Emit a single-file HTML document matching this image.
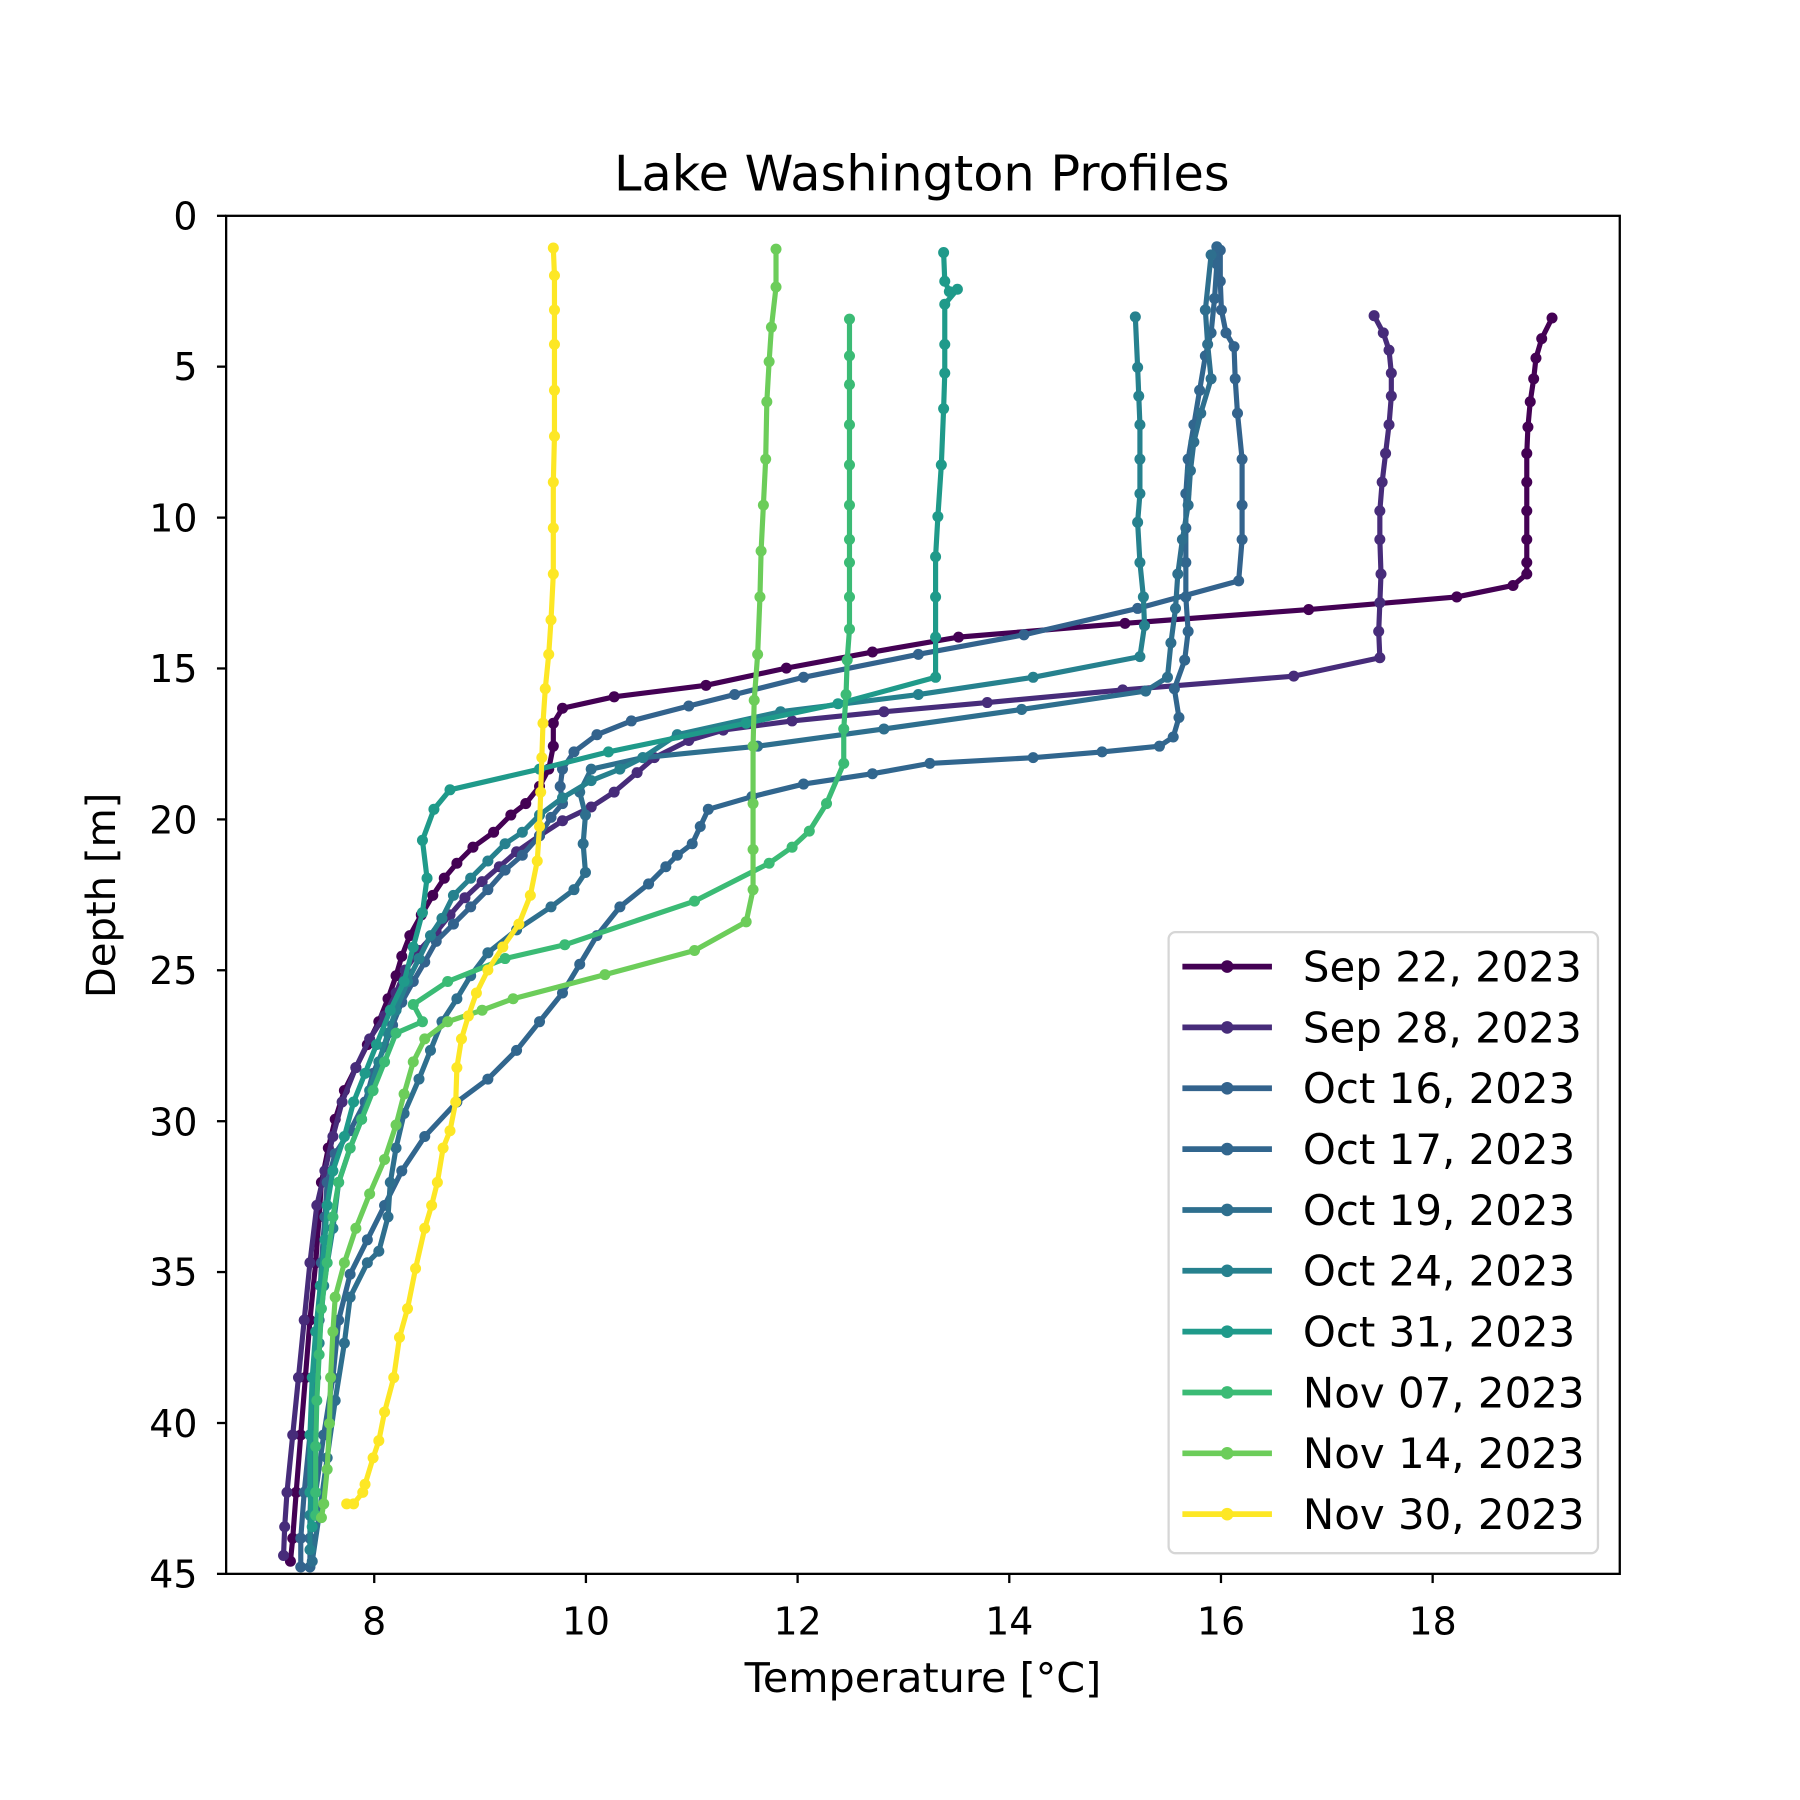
<!DOCTYPE html>
<html><head><meta charset="utf-8"><style>
html,body{margin:0;padding:0;background:#fff}
svg{display:block}
text{font-family:"DejaVu Sans","Liberation Sans",sans-serif;fill:#000}
</style></head><body>
<svg width="1800" height="1800" viewBox="0 0 1568 1568" xmlns="http://www.w3.org/2000/svg">
<defs>
<marker id="m0" viewBox="-6 -6 12 12" markerWidth="12" markerHeight="12" markerUnits="userSpaceOnUse"><circle r="4.8" fill="#440154"/></marker>
<marker id="m1" viewBox="-6 -6 12 12" markerWidth="12" markerHeight="12" markerUnits="userSpaceOnUse"><circle r="4.8" fill="#472c7a"/></marker>
<marker id="m2" viewBox="-6 -6 12 12" markerWidth="12" markerHeight="12" markerUnits="userSpaceOnUse"><circle r="4.8" fill="#33638d"/></marker>
<marker id="m3" viewBox="-6 -6 12 12" markerWidth="12" markerHeight="12" markerUnits="userSpaceOnUse"><circle r="4.8" fill="#31668e"/></marker>
<marker id="m4" viewBox="-6 -6 12 12" markerWidth="12" markerHeight="12" markerUnits="userSpaceOnUse"><circle r="4.8" fill="#2e6f8e"/></marker>
<marker id="m5" viewBox="-6 -6 12 12" markerWidth="12" markerHeight="12" markerUnits="userSpaceOnUse"><circle r="4.8" fill="#26818e"/></marker>
<marker id="m6" viewBox="-6 -6 12 12" markerWidth="12" markerHeight="12" markerUnits="userSpaceOnUse"><circle r="4.8" fill="#1f9a8a"/></marker>
<marker id="m7" viewBox="-6 -6 12 12" markerWidth="12" markerHeight="12" markerUnits="userSpaceOnUse"><circle r="4.8" fill="#3bbb75"/></marker>
<marker id="m8" viewBox="-6 -6 12 12" markerWidth="12" markerHeight="12" markerUnits="userSpaceOnUse"><circle r="4.8" fill="#6ccd5a"/></marker>
<marker id="m9" viewBox="-6 -6 12 12" markerWidth="12" markerHeight="12" markerUnits="userSpaceOnUse"><circle r="4.8" fill="#fde725"/></marker>
<clipPath id="ax"><rect x="197" y="188" width="1214" height="1183"/></clipPath>
</defs>
<rect width="1568" height="1568" fill="#fff"/>
<g clip-path="url(#ax)" fill="none" stroke-width="4.5" stroke-linejoin="round">
<polyline stroke="#440154" marker-start="url(#m0)" marker-mid="url(#m0)" marker-end="url(#m0)" points="1352,277 1343,295 1338,312 1336,330 1333,350 1331,372 1330,395 1330,420 1330,445 1330,470 1330,490 1330,500 1318,510 1269,520 1140,531 980,543 835,555 760,568 685,582 615,597 535,607 490,617 482,630 482,650 478,670 470,685 458,700 445,710 430,725 412,738 398,752 387,765 377,780 367,797 357,815 350,833 345,850 338,870 330,890 320,910 310,930 300,950 292,975 286,1000 280,1030 278,1060 275,1100 270,1150 266,1200 262,1250 258,1300 255,1340 253,1360"/>
<polyline stroke="#472c7a" marker-start="url(#m1)" marker-mid="url(#m1)" marker-end="url(#m1)" points="1197,275 1205,290 1210,305 1212,325 1212,345 1210,370 1207,395 1204,420 1202,445 1202,470 1203,500 1202,525 1201,550 1202,573 1127,589 978,601 860,612 770,620 690,628 630,636 600,645 570,660 555,673 535,690 515,703 490,715 470,728 450,742 435,755 420,768 405,782 392,797 380,812 365,828 353,845 345,865 335,885 322,905 310,930 298,960 290,990 283,1020 276,1050 270,1100 265,1150 260,1200 255,1250 250,1300 248,1330 247,1355"/>
<polyline stroke="#33638d" marker-start="url(#m2)" marker-mid="url(#m2)" marker-end="url(#m2)" points="1063,218 1063,245 1064,270 1068,290 1075,302 1076,330 1078,360 1082,400 1082,440 1082,470 1079,506 991,530 892,553 800,570 700,590 640,605 600,615 550,628 520,640 500,655 490,670 488,685 490,700 480,712 470,728 455,745 440,758 425,775 410,790 395,805 380,820 370,838 360,855 350,873 342,893 335,912 325,935 318,960 305,985 292,1005 285,1030 283,1060 280,1100 278,1150 275,1200 270,1250 265,1300 262,1340 262,1365"/>
<polyline stroke="#31668e" marker-start="url(#m3)" marker-mid="url(#m3)" marker-end="url(#m3)" points="1060,215 1060,230 1058,260 1055,290 1050,310 1045,340 1040,370 1035,400 1033,430 1033,460 1033,490 1033,520 1035,550 1032,575 1023,600 1027,625 1022,642 1010,650 960,655 900,660 810,665 760,674 700,683 655,694 617,705 610,720 603,735 590,745 580,755 565,770 540,790 520,815 505,840 490,865 470,890 450,915 425,940 398,960 370,990 350,1020 335,1050 320,1080 305,1110 295,1150 290,1200 282,1250 275,1300 270,1340 270,1365"/>
<polyline stroke="#2e6f8e" marker-start="url(#m4)" marker-mid="url(#m4)" marker-end="url(#m4)" points="1055,222 1050,270 1052,300 1055,330 1046,360 1040,385 1037,410 1035,440 1030,470 1026,500 1024,530 1020,560 1017,590 998,602 890,618 770,635 660,650 560,660 515,670 505,690 510,710 508,735 510,760 500,775 480,790 450,810 425,830 410,850 398,870 385,890 375,915 365,940 352,970 345,1000 340,1030 338,1060 330,1090 320,1100 305,1130 300,1170 292,1220 285,1270 278,1320 272,1360"/>
<polyline stroke="#26818e" marker-start="url(#m5)" marker-mid="url(#m5)" marker-end="url(#m5)" points="989,276 991,320 992,345 993,370 993,400 993,430 991,455 993,490 996,520 997,545 993,572 900,590 800,605 680,620 590,640 560,660 540,670 515,680 490,695 470,710 455,725 440,735 425,750 410,765 395,780 385,800 375,815 365,835 355,855 345,880 338,900 330,925 322,950 315,975 305,1000 295,1030 290,1070 282,1120 278,1170 275,1220 272,1270 270,1320 270,1350"/>
<polyline stroke="#1f9a8a" marker-start="url(#m6)" marker-mid="url(#m6)" marker-end="url(#m6)" points="822,220 823,245 827,254 834,252 823,265 823,300 823,325 822,356 820,405 817,450 815,485 815,520 815,555 815,590 730,613 650,630 530,655 470,670 392,688 378,705 368,732 372,765 368,795 360,825 352,855 340,880 328,910 318,935 308,960 300,990 290,1020 285,1050 283,1080 279,1120 275,1160 272,1200 270,1250 270,1300 272,1330"/>
<polyline stroke="#3bbb75" marker-start="url(#m7)" marker-mid="url(#m7)" marker-end="url(#m7)" points="740,278 740,310 740,335 740,370 740,405 740,440 740,470 740,490 740,520 740,548 738,575 737,605 735,635 735,665 720,700 705,724 690,738 670,752 605,785 492,823 440,835 390,855 360,875 368,890 345,900 335,925 325,950 315,975 305,1000 295,1030 290,1060 285,1100 280,1140 278,1180 276,1220 275,1260 275,1300 275,1320"/>
<polyline stroke="#6ccd5a" marker-start="url(#m8)" marker-mid="url(#m8)" marker-end="url(#m8)" points="676,217 676,250 672,285 670,315 668,350 667,400 665,440 663,480 662,520 660,570 657,610 656,650 656,700 656,740 656,775 650,803 605,828 527,849 447,870 420,880 390,890 370,905 360,925 352,953 345,980 335,1010 322,1040 310,1070 300,1100 292,1130 290,1160 288,1200 287,1240 285,1280 282,1310 280,1322"/>
<polyline stroke="#fde725" marker-start="url(#m9)" marker-mid="url(#m9)" marker-end="url(#m9)" points="482,216 483,240 483,270 483,300 483,340 483,380 482,420 482,460 482,500 480,540 478,570 475,600 473,630 472,660 471,690 470,720 468,750 462,780 452,805 438,825 425,845 415,865 408,885 402,905 398,930 397,960 392,985 386,1000 381,1030 376,1050 370,1070 362,1105 355,1140 348,1165 343,1200 335,1230 330,1255 325,1270 318,1293 316,1300 308,1310 302,1310"/>
</g>
<rect x="197" y="188" width="1214" height="1183" fill="none" stroke="#000" stroke-width="2"/>
<g stroke="#000" stroke-width="2">
<line x1="326" y1="1371" x2="326" y2="1379"/><line x1="510.4" y1="1371" x2="510.4" y2="1379"/><line x1="694.8" y1="1371" x2="694.8" y2="1379"/><line x1="879.2" y1="1371" x2="879.2" y2="1379"/><line x1="1063.6" y1="1371" x2="1063.6" y2="1379"/><line x1="1248" y1="1371" x2="1248" y2="1379"/>
<line x1="189" y1="188" x2="197" y2="188"/><line x1="189" y1="319.4" x2="197" y2="319.4"/><line x1="189" y1="450.9" x2="197" y2="450.9"/><line x1="189" y1="582.3" x2="197" y2="582.3"/><line x1="189" y1="713.8" x2="197" y2="713.8"/><line x1="189" y1="845.2" x2="197" y2="845.2"/><line x1="189" y1="976.7" x2="197" y2="976.7"/><line x1="189" y1="1108.1" x2="197" y2="1108.1"/><line x1="189" y1="1239.6" x2="197" y2="1239.6"/><line x1="189" y1="1371" x2="197" y2="1371"/>
</g>
<g font-size="33" text-anchor="middle">
<text x="326" y="1424">8</text><text x="510.4" y="1424">10</text><text x="694.8" y="1424">12</text><text x="879.2" y="1424">14</text><text x="1063.6" y="1424">16</text><text x="1248" y="1424">18</text>
</g>
<g font-size="33" text-anchor="end">
<text x="172" y="200">0</text><text x="172" y="331">5</text><text x="172" y="463">10</text><text x="172" y="594">15</text><text x="172" y="726">20</text><text x="172" y="857">25</text><text x="172" y="989">30</text><text x="172" y="1120">35</text><text x="172" y="1252">40</text><text x="172" y="1383">45</text>
</g>
<text x="804" y="1474" font-size="36" text-anchor="middle">Temperature [°C]</text>
<text transform="translate(100,780) rotate(-90)" font-size="35" text-anchor="middle">Depth [m]</text>
<text x="803" y="166" font-size="43" text-anchor="middle">Lake Washington Profiles</text>
<rect x="1018" y="812" width="374" height="541" rx="6" fill="#fff" fill-opacity="0.8" stroke="#d6d6d6" stroke-width="2"/>
<g stroke-width="5">
<line x1="1030" y1="842" x2="1108" y2="842" stroke="#440154"/><circle cx="1069" cy="842" r="5.5" fill="#440154"/>
<line x1="1030" y1="895" x2="1108" y2="895" stroke="#472c7a"/><circle cx="1069" cy="895" r="5.5" fill="#472c7a"/>
<line x1="1030" y1="948" x2="1108" y2="948" stroke="#33638d"/><circle cx="1069" cy="948" r="5.5" fill="#33638d"/>
<line x1="1030" y1="1001" x2="1108" y2="1001" stroke="#31668e"/><circle cx="1069" cy="1001" r="5.5" fill="#31668e"/>
<line x1="1030" y1="1054" x2="1108" y2="1054" stroke="#2e6f8e"/><circle cx="1069" cy="1054" r="5.5" fill="#2e6f8e"/>
<line x1="1030" y1="1107" x2="1108" y2="1107" stroke="#26818e"/><circle cx="1069" cy="1107" r="5.5" fill="#26818e"/>
<line x1="1030" y1="1160" x2="1108" y2="1160" stroke="#1f9a8a"/><circle cx="1069" cy="1160" r="5.5" fill="#1f9a8a"/>
<line x1="1030" y1="1213" x2="1108" y2="1213" stroke="#3bbb75"/><circle cx="1069" cy="1213" r="5.5" fill="#3bbb75"/>
<line x1="1030" y1="1266" x2="1108" y2="1266" stroke="#6ccd5a"/><circle cx="1069" cy="1266" r="5.5" fill="#6ccd5a"/>
<line x1="1030" y1="1319" x2="1108" y2="1319" stroke="#fde725"/><circle cx="1069" cy="1319" r="5.5" fill="#fde725"/>
</g>
<g font-size="36.5">
<text x="1135" y="855">Sep 22, 2023</text><text x="1135" y="908">Sep 28, 2023</text><text x="1135" y="961">Oct 16, 2023</text><text x="1135" y="1014">Oct 17, 2023</text><text x="1135" y="1067">Oct 19, 2023</text><text x="1135" y="1120">Oct 24, 2023</text><text x="1135" y="1173">Oct 31, 2023</text><text x="1135" y="1226">Nov 07, 2023</text><text x="1135" y="1279">Nov 14, 2023</text><text x="1135" y="1332">Nov 30, 2023</text>
</g>
</svg>
</body></html>
